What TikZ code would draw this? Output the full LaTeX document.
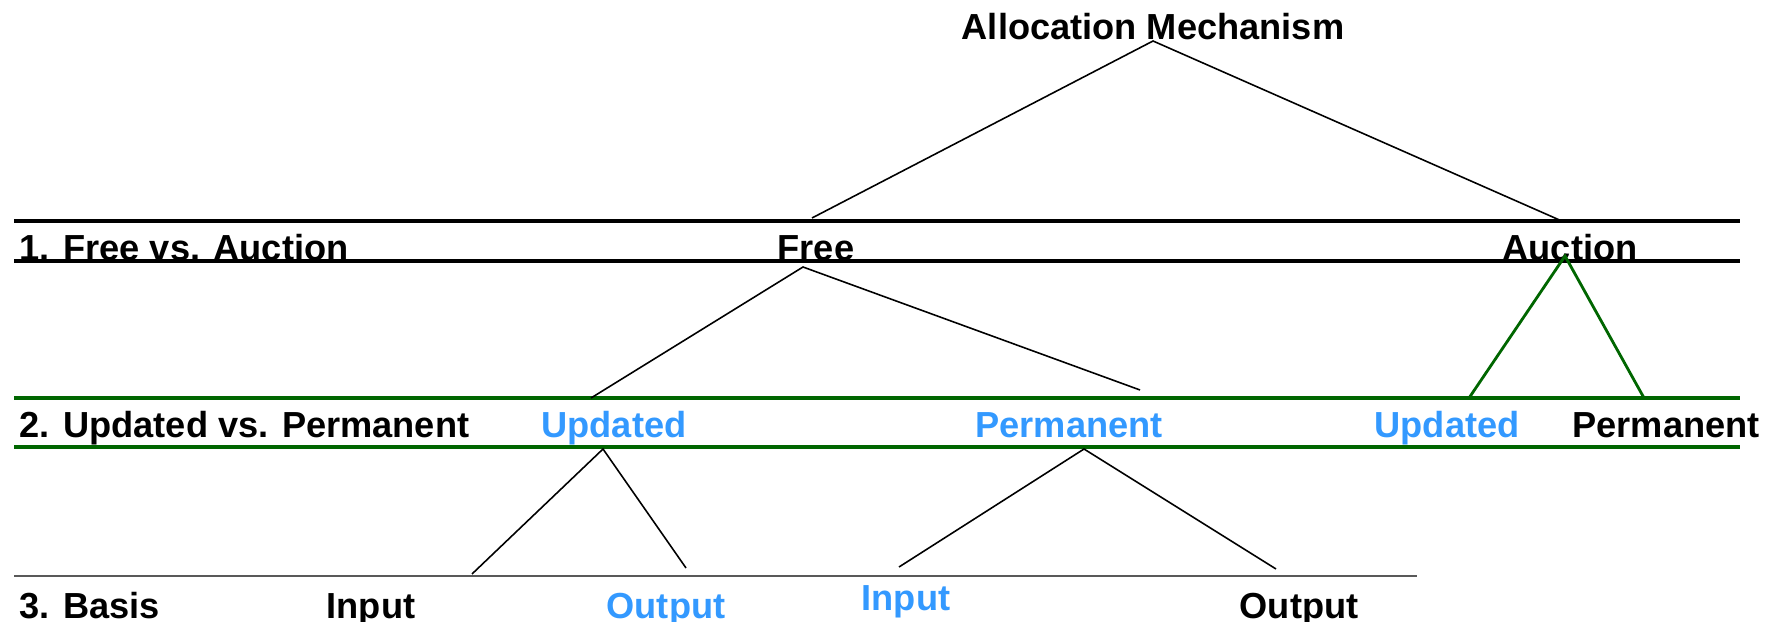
\documentclass[tikz,border=0pt]{standalone}
\usepackage{fontspec}
\setmainfont{Liberation Sans}
\definecolor{lightblue}{RGB}{51,153,255}
\definecolor{darkgreen}{RGB}{0,102,0}

\begin{document}
\begin{tikzpicture}[x=0.01cm,y=-0.01cm,
		lbl/.style={font=\fontsize{10.3}{12}\selectfont\bfseries, inner sep=0pt, anchor=base},
		bluelbl/.style={lbl, text=lightblue},
		branch/.style={line width=0.45pt},
		greenbranch/.style={line width=0.8pt, draw=darkgreen}]
			\useasboundingbox (0,0) rectangle (1774,622);

			% level rules
			\draw [line width=0.9pt] (14,221) -- (1740,221);
			\draw [line width=0.9pt] (14,261) -- (1740,261);
			\draw [line width=0.9pt, darkgreen] (14,398) -- (1740,398);
			\draw [line width=0.9pt, darkgreen] (14,447) -- (1740,447);
			\draw [line width=0.5pt, black!65] (14,576) -- (1417,576);

			% level names
			\node (levelA) [lbl, anchor=base west] at (19,261) {1. Free vs. Auction};
			\node (levelB) [lbl, anchor=base west] at (19,438) {2. Updated vs. Permanent};
			\node (levelC) [lbl, anchor=base west] at (19,618) {3. Basis};

			% tree labels
			\node (alloc) [lbl] at (1153,40) {Allocation Mechanism};
			\node (free) [lbl] at (816,261) {Free};
			\node (auction) [lbl] at (1570,261) {Auction};
			\node (upd) [bluelbl] at (614,438) {Updated};
			\node (perm) [bluelbl] at (1069,438) {Permanent};
			\node (upd2) [bluelbl] at (1447,438) {Updated};
			\node (perm2) [lbl] at (1666,438) {Permanent};
			\node (in1) [lbl] at (371,618) {Input};
			\node (out1) [bluelbl] at (666,618) {Output};
			\node (in2) [bluelbl] at (906,610) {Input};
			\node (out2) [lbl] at (1299,618) {Output};

			% branch ends
			\coordinate (alloc-root) at (1153,41);
			\coordinate (free-in) at (812,218);
			\coordinate (auction-in) at (1564,222);
			\coordinate (free-root) at (803,267);
			\coordinate (upd-in) at (591,398);
			\coordinate (perm-in) at (1140,390);
			\coordinate (auction-root) at (1565,256);
			\coordinate (upd2-in) at (1469,398);
			\coordinate (perm2-in) at (1644,398);
			\coordinate (upd-root) at (603,449);
			\coordinate (in1-in) at (472,574);
			\coordinate (out1-in) at (686,568);
			\coordinate (perm-root) at (1084,449);
			\coordinate (in2-in) at (899,567);
			\coordinate (out2-in) at (1276,569);

			\draw [branch] (free-in) -- (alloc-root) -- (auction-in);
			\draw [branch] (upd-in) -- (free-root) -- (perm-in);
			\draw [greenbranch] (upd2-in) -- (auction-root) -- (perm2-in);
			\draw [branch] (in1-in) -- (upd-root) -- (out1-in);
			\draw [branch] (in2-in) -- (perm-root) -- (out2-in);
		\end{tikzpicture}
\end{document}
